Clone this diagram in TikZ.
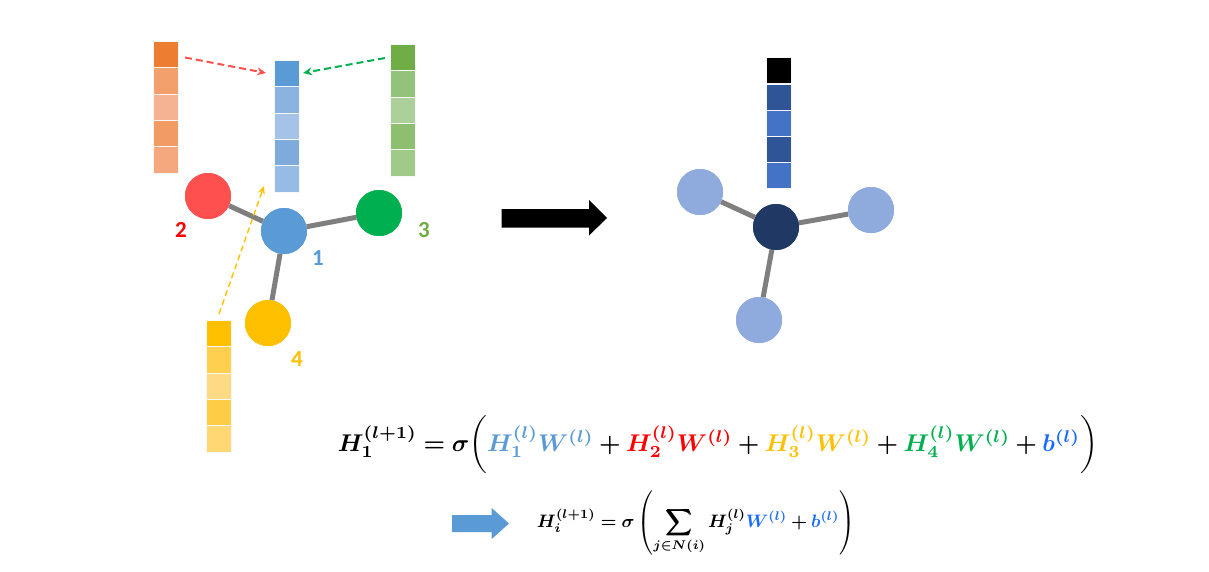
\documentclass[tikz,border=0pt]{standalone}
\usepackage{amsmath,bm}
\usepackage{graphicx}
\usepackage{fontspec}
\usetikzlibrary{arrows.meta}
\newfontfamily\labfont{Carlito}
\definecolor{cOne}{HTML}{5B9BD5}
\definecolor{cTwo}{HTML}{FF5050}
\definecolor{cThree}{HTML}{00B050}
\definecolor{cFour}{HTML}{FFC000}
\definecolor{lTwo}{HTML}{FF0000}
\definecolor{lThree}{HTML}{70AD47}
\definecolor{edgegray}{HTML}{7F7F7F}
\definecolor{darknode}{HTML}{203864}
\definecolor{lightnode}{HTML}{8FAADC}
\definecolor{fBlue}{HTML}{1A6BFF}
\definecolor{fRed}{HTML}{FF0000}
\definecolor{fYel}{HTML}{FFC000}
\definecolor{fGreen}{HTML}{00B050}
\definecolor{fOne}{HTML}{5B9BD5}
\definecolor{arrowblue}{HTML}{5B9BD5}
\begin{document}
\begin{tikzpicture}[x=1pt,y=-1pt,
  gnode/.style={circle,minimum size=46pt,inner sep=0pt},
  gedge/.style={draw=edgegray,line width=5pt},
  cell/.style={minimum width=25pt,minimum height=26.4pt,inner sep=0pt,draw=white!70!gray!20,line width=0.4pt},
  dasharrow/.style={line width=2pt,-{Stealth[length=9pt,width=8pt]},dash pattern=on 7pt off 4pt},
  lab/.style={font=\labfont\bfseries\fontsize{23}{23}\selectfont}
]
\useasboundingbox (0,0) rectangle (1209,571);
\fill[white] (0,0) rectangle (1209,571);

% ---------- left graph ----------
\node[gnode,fill=cOne]   (n1) at (284,231) {};
\node[gnode,fill=cTwo]   (n2) at (208,196) {};
\node[gnode,fill=cThree] (n3) at (379,213) {};
\node[gnode,fill=cFour]  (n4) at (268,323) {};
\draw[gedge] (n2) -- (n1);
\draw[gedge] (n3) -- (n1);
\draw[gedge] (n4) -- (n1);
% redraw nodes over edges
\node[gnode,fill=cOne]   at (284,231) {};
\node[gnode,fill=cTwo]   at (208,196) {};
\node[gnode,fill=cThree] at (379,213) {};
\node[gnode,fill=cFour]  at (268,323) {};

\node[lab,text=lTwo]   (l2) at (181,230) {2};
\node[lab,text=lThree] (l3) at (424,230) {3};
\node[lab,text=cOne]   (l1) at (318,258) {1};
\node[lab,text=cFour]  (l4) at (297,359) {4};

% orange vector
\node[cell,fill={rgb,255:red,237;green,125;blue,49}]  (o1) at (165.5,54.2) {};
\node[cell,fill={rgb,255:red,244;green,160;blue,108}] (o2) at (165.5,80.6) {};
\node[cell,fill={rgb,255:red,246;green,179;blue,147}] (o3) at (165.5,107.0) {};
\node[cell,fill={rgb,255:red,242;green,155;blue,101}] (o4) at (165.5,133.4) {};
\node[cell,fill={rgb,255:red,245;green,167;blue,126}] (o5) at (165.5,159.8) {};
% blue vector
\node[cell,fill={rgb,255:red,91;green,155;blue,213}]  (b1) at (286.5,73.2) {};
\node[cell,fill={rgb,255:red,138;green,179;blue,224}] (b2) at (286.5,99.6) {};
\node[cell,fill={rgb,255:red,164;green,195;blue,230}] (b3) at (286.5,126.0) {};
\node[cell,fill={rgb,255:red,126;green,171;blue,220}] (b4) at (286.5,152.4) {};
\node[cell,fill={rgb,255:red,150;green,187;blue,228}] (b5) at (286.5,178.8) {};
% green vector
\node[cell,fill={rgb,255:red,112;green,173;blue,71}]  (g1) at (403,57.2) {};
\node[cell,fill={rgb,255:red,147;green,194;blue,122}] (g2) at (403,83.6) {};
\node[cell,fill={rgb,255:red,171;green,208;blue,153}] (g3) at (403,110.0) {};
\node[cell,fill={rgb,255:red,142;green,191;blue,112}] (g4) at (403,136.4) {};
\node[cell,fill={rgb,255:red,160;green,202;blue,136}] (g5) at (403,162.8) {};
% yellow vector
\node[cell,fill={rgb,255:red,255;green,192;blue,0}]   (y1) at (219,333.2) {};
\node[cell,fill={rgb,255:red,255;green,208;blue,80}]  (y2) at (219,359.6) {};
\node[cell,fill={rgb,255:red,255;green,218;blue,133}] (y3) at (219,386.0) {};
\node[cell,fill={rgb,255:red,255;green,204;blue,69}]  (y4) at (219,412.4) {};
\node[cell,fill={rgb,255:red,255;green,216;blue,116}] (y5) at (219,438.8) {};

% dashed arrows
\coordinate (ra) at (185,57.5);
\coordinate (rb) at (266,73);
\coordinate (ga) at (385,58);
\coordinate (gb) at (303,73);
\coordinate (ya) at (219,314);
\coordinate (yb) at (264,186);
\draw[dasharrow,draw=cTwo]   (ra) -- (rb);
\draw[dasharrow,draw=cThree] (ga) -- (gb);
\draw[dasharrow,draw=cFour,line width=1.4pt,dash pattern=on 6pt off 3.5pt,-{Stealth[length=8pt,width=7pt]}] (ya) -- (yb);

% ---------- big black arrow ----------
\fill[black] (501.7,209) -- (589,209) -- (589,200) -- (607,218) -- (589,235.5) -- (589,227.5) -- (501.7,227.5) -- cycle;

% ---------- right graph ----------
\node[gnode,fill=darknode]  (m1) at (776,227) {};
\node[gnode,fill=lightnode] (m2) at (700,192) {};
\node[gnode,fill=lightnode] (m3) at (871,210) {};
\node[gnode,fill=lightnode] (m4) at (759,320) {};
\draw[gedge] (m2) -- (m1);
\draw[gedge] (m3) -- (m1);
\draw[gedge] (m4) -- (m1);
\node[gnode,fill=darknode]  at (776,227) {};
\node[gnode,fill=lightnode] at (700,192) {};
\node[gnode,fill=lightnode] at (871,210) {};
\node[gnode,fill=lightnode] at (759,320) {};

\node[cell,fill=black,minimum height=26pt] (k0) at (779,69.7) {};
\node[cell,fill={rgb,255:red,47;green,85;blue,151}]  (k1) at (779,97.4) {};
\node[cell,fill={rgb,255:red,68;green,114;blue,196}] (k2) at (779,123.4) {};
\node[cell,fill={rgb,255:red,47;green,85;blue,151}]  (k3) at (779,149.4) {};
\node[cell,fill={rgb,255:red,68;green,114;blue,196}] (k4) at (779,175.4) {};

% ---------- formulas ----------
\node[inner sep=0pt] (f1) at (718,445) {\resizebox{760pt}{!}{$\bm{H_{1}^{(l+1)} = \sigma\bigg( {\color{fOne}H_1^{(l)}W^{(l)}} + {\color{fRed}H_2^{(l)}W^{(l)}} + {\color{fYel}H_3^{(l)}W^{(l)}} + {\color{fGreen}H_4^{(l)}W^{(l)}} + {\color{fBlue}b^{(l)}}\bigg)}$}};

\fill[arrowblue] (452,515) -- (491.7,515) -- (491.7,508) -- (509,523.5) -- (491.7,539) -- (491.7,532) -- (452,532) -- cycle;

\node[inner sep=0pt] (f2) at (696,523) {\resizebox{318pt}{!}{$\displaystyle\bm{H_{i}^{(l+1)} = \sigma\left(\sum_{j\in N(i)} H_j^{(l)}{\color{fBlue}W^{(l)}} + {\color{fBlue}b^{(l)}}\right)}$}};
\end{tikzpicture}
\end{document}
